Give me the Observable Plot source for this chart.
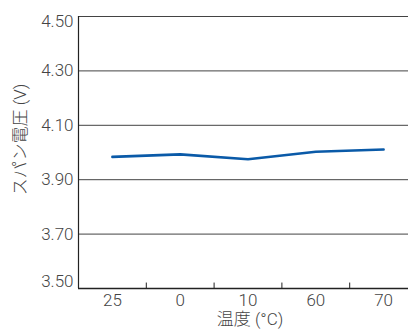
<!DOCTYPE html>
<html>
<head>
<meta charset="utf-8">
<script src="https://cdn.jsdelivr.net/npm/d3@7"></script>
<script src="https://cdn.jsdelivr.net/npm/@observablehq/plot@0.6"></script>
<style>
  html, body { margin: 0; padding: 0; background: #fff; }
  svg { display: block; }
  svg text { font-weight: 300; }
</style>
</head>
<body>
<div id="chart"></div>
<script>
const categories = ["25", "0", "10", "60", "70"];
const voltages = [3.984, 3.993, 3.975, 4.003, 4.011];
const yTicks = [3.50, 3.70, 3.90, 4.10, 4.30, 4.50];
const xTitle = "温度 (°C)";
const yTitle = "スパン電圧 (V)";

const data = categories.map((c, i) => ({i, c, v: voltages[i]}));
const idx = categories.map((c, i) => i);
const bounds = idx.slice(1).map(i => i - 0.5);
const midTicks = yTicks.slice(1, -1);

const font = "Roboto, 'Noto Sans CJK JP', sans-serif";
const fs = 17;
const txt = "#444";

const chart = Plot.plot({
  width: 408,
  height: 329,
  marginLeft: 78,
  marginTop: 16,
  marginBottom: 41,
  marginRight: 0,
  style: {fontFamily: font, fontSize: fs + "px", color: txt, background: "#fff"},
  x: {type: "linear", domain: [-0.5, 4.5], range: [78, 417]},
  y: {domain: [3.5, 4.5]},
  marks: [
    Plot.gridY(yTicks, {stroke: "#222", strokeOpacity: 0.85, strokeWidth: 1}),
    Plot.ruleX([-0.5], {stroke: "#222", strokeWidth: 1.2}),
    Plot.ruleX(bounds, {y1: 3.5, y2: 3.52, stroke: "#222", strokeWidth: 1}),
    Plot.ruleY([3.5], {stroke: "#222", strokeWidth: 1.6}),
    Plot.axisY(midTicks, {tickSize: 0, tickPadding: 5, tickFormat: d => d.toFixed(2), label: null, fontSize: fs, fill: txt}),
    Plot.axisY([4.5], {tickSize: 0, tickPadding: 5, dy: 5, tickFormat: d => d.toFixed(2), label: null, fontSize: fs, fill: txt}),
    Plot.axisY([3.5], {tickSize: 0, tickPadding: 5, dy: -7, tickFormat: d => d.toFixed(2), label: null, fontSize: fs, fill: txt}),
    Plot.axisX(idx, {tickSize: 0, tickPadding: 5, tickFormat: i => categories[i], label: null, fontSize: fs, fill: txt}),
    Plot.line(data, {x: "i", y: "v", stroke: "#0a5aa8", strokeWidth: 2.6}),
    Plot.text([xTitle], {frameAnchor: "bottom", dy: 36, x: 2.03, fontSize: fs, fill: txt}),
    Plot.text([yTitle], {frameAnchor: "left", textAnchor: "middle", dx: -58, dy: -13, rotate: -90, fontSize: fs, fill: txt})
  ]
});
document.getElementById("chart").appendChild(chart);
</script>
</body>
</html>
